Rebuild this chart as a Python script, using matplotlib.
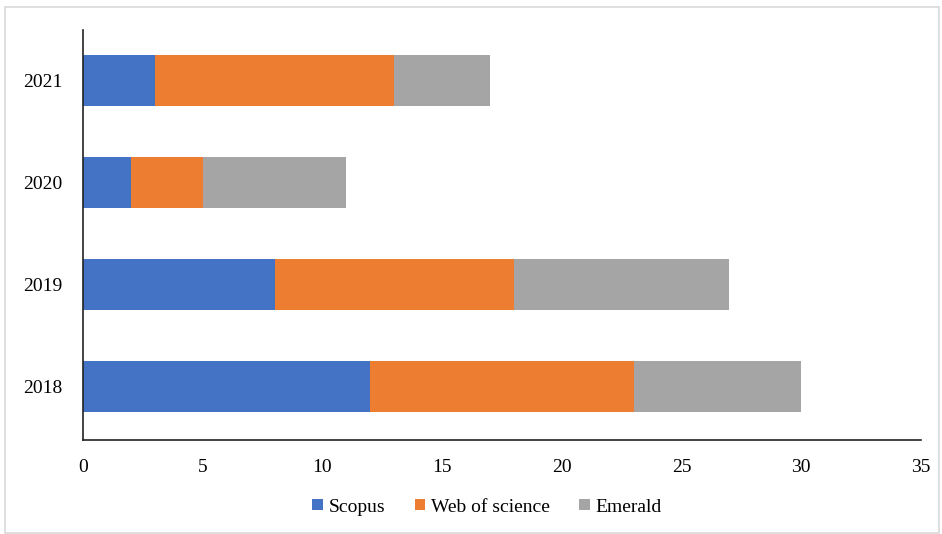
import numpy as np
import matplotlib.pyplot as plt
from matplotlib.patches import Rectangle

years = ['2018', '2019', '2020', '2021']
scopus = [12, 8, 2, 3]
wos = [11, 10, 3, 10]
emerald = [7, 9, 6, 4]

plt.rcParams['font.family'] = ['Liberation Serif', 'DejaVu Serif']

fig = plt.figure(figsize=(9.42, 5.34), dpi=100)
fig.patches.append(Rectangle((5 / 942, 0.002), 934 / 942, 1 - 7 / 534 - 0.002,
                             transform=fig.transFigure, fill=False,
                             edgecolor='#d9d9d9', linewidth=1.2))
ax = fig.add_axes([83 / 942, 1 - 440 / 534, 838 / 942, 410 / 534])

y = np.arange(len(years))
left2 = np.array(scopus) + np.array(wos)
ax.barh(y, scopus, height=0.5, color='#4472C4', label='Scopus')
ax.barh(y, wos, height=0.5, left=scopus, color='#ED7D31', label='Web of science')
ax.barh(y, emerald, height=0.5, left=left2, color='#A5A5A5', label='Emerald')

ax.set_xlim(0, 35)
ax.set_ylim(-0.52, 3.5)
ax.set_xticks(range(0, 36, 5))
ax.set_yticks(y)
ax.set_yticklabels(years)
ax.tick_params(length=0, labelsize=14)
ax.tick_params(axis='x', pad=14)
ax.tick_params(axis='y', pad=15)
ax.spines['top'].set_visible(False)
ax.spines['right'].set_visible(False)
for s in ('left', 'bottom'):
    ax.spines[s].set_linewidth(1.2)
    ax.spines[s].set_color('#222222')

fig.legend(loc='center', bbox_to_anchor=(0.517, 1 - 507 / 534), ncol=3,
           frameon=False, fontsize=14, handlelength=0.55, handleheight=0.55,
           handletextpad=0.3, columnspacing=1.5)

fig.savefig('out.png', dpi=100)
